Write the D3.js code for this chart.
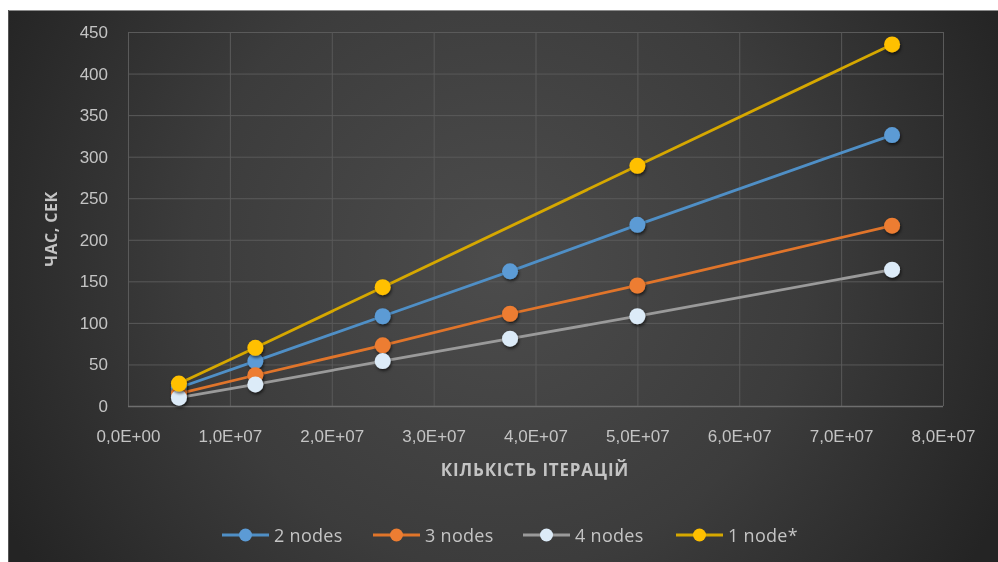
<!DOCTYPE html>
<html><head><meta charset="utf-8">
<script src="https://cdn.jsdelivr.net/npm/d3@7"></script>
<style>
html,body{margin:0;padding:0;background:#fff;}
svg{display:block;font-family:"Open Sans","DejaVu Sans",sans-serif;}
</style></head>
<body>
<svg id="c" width="998" height="562"></svg>
<script>
const iterations = [5e6, 1.25e7, 2.5e7, 3.75e7, 5e7, 7.5e7];
const seriesNames = ["2 nodes", "3 nodes", "4 nodes", "1 node*"];
const nodes2 = [22, 54, 108, 162, 218, 326];
const nodes3 = [15, 37, 73, 111, 145, 217];
const nodes4 = [10, 26, 54, 81, 108, 164];
const node1 = [27, 70, 143, null, 289, 435];
const xTicks = [0, 1e7, 2e7, 3e7, 4e7, 5e7, 6e7, 7e7, 8e7];
const xTickLabels = ["0,0E+00","1,0E+07","2,0E+07","3,0E+07","4,0E+07","5,0E+07","6,0E+07","7,0E+07","8,0E+07"];
const yTicks = [0, 50, 100, 150, 200, 250, 300, 350, 400, 450];
const yTitle = "ЧАС, СЕК";
const xTitle = "КІЛЬКІСТЬ ІТЕРАЦІЙ";

const seriesValues = [nodes2, nodes3, nodes4, node1];
const lineColors = ["#4f8fc6", "#e0742c", "#9a9a9a", "#d6a800"];
const markerColors = ["#5b9bd5", "#ed7d31", "#dcebf8", "#ffc000"];

const svg = d3.select("#c");
const defs = svg.append("defs");
const rg = defs.append("radialGradient").attr("id","bg")
  .attr("gradientUnits","userSpaceOnUse").attr("cx",500).attr("cy",260).attr("r",560);
rg.append("stop").attr("offset","0%").attr("stop-color","#4c4c4c");
rg.append("stop").attr("offset","55%").attr("stop-color","#3c3c3c");
rg.append("stop").attr("offset","100%").attr("stop-color","#242424");
const sh = defs.append("filter").attr("id","sh").attr("x","-50%").attr("y","-50%").attr("width","200%").attr("height","200%");
sh.append("feDropShadow").attr("dx",1).attr("dy",2).attr("stdDeviation",1.5).attr("flood-color","#000").attr("flood-opacity",0.6);
const bl = defs.append("filter").attr("id","bl");
bl.append("feGaussianBlur").attr("stdDeviation",0.6);

svg.append("rect").attr("x",8).attr("y",10).attr("width",990).attr("height",552).attr("fill","url(#bg)");
svg.append("line").attr("x1",8).attr("x2",998).attr("y1",10.5).attr("y2",10.5).attr("stroke","#8a8a8a").attr("stroke-width",1);
svg.append("line").attr("x1",8.5).attr("x2",8.5).attr("y1",10).attr("y2",562).attr("stroke","#555").attr("stroke-width",1);

const x = d3.scaleLinear().domain([0, 8e7]).range([128, 943]);
const y = d3.scaleLinear().domain([0, 450]).range([406, 32]);

const g = svg.append("g").attr("filter","url(#bl)");
const txt = "#c4c4c4";

// gridlines
const yAxis = d3.axisLeft(y).tickValues(yTicks).tickSize(-(943-128)).tickPadding(20).tickFormat(d3.format("d"));
const ya = g.append("g").attr("transform","translate(128,0)").call(yAxis);
ya.select(".domain").attr("stroke","#5e5e5e");
ya.selectAll(".tick line").attr("stroke","#5a5a5a").attr("stroke-width",1);
ya.selectAll(".tick text").attr("fill",txt).attr("font-size",17).attr("x",-20);

const xAxis = d3.axisBottom(x).tickValues(xTicks).tickSize(-(406-32)).tickPadding(24).tickFormat((d,i)=>xTickLabels[i]);
const xa = g.append("g").attr("transform","translate(0,406)").call(xAxis);
xa.select(".domain").remove();
xa.selectAll(".tick line").attr("stroke","#5a5a5a").attr("stroke-width",1);
xa.selectAll(".tick text").attr("fill",txt).attr("font-size",17);
g.append("line").attr("x1",128).attr("x2",943).attr("y1",406.5).attr("y2",406.5).attr("stroke","#6e6e6e").attr("stroke-width",1.5);

// axis titles
g.append("text").attr("transform","translate(57,229) rotate(-90)").attr("text-anchor","middle")
  .attr("fill",txt).attr("font-size",16).attr("font-weight","bold").attr("letter-spacing",0.5).text(yTitle);
g.append("text").attr("x",535).attr("y",476).attr("text-anchor","middle")
  .attr("fill",txt).attr("font-size",17).attr("font-weight","bold").attr("letter-spacing",0.8).text(xTitle);

// series
const line = d3.line().x(d=>x(d[0])).y(d=>y(d[1]));
seriesValues.forEach((vals,i)=>{
  const pts = iterations.map((it,j)=>[it, vals[j]]).filter(p=>p[1]!==null);
  g.append("path").datum(pts).attr("d",line).attr("fill","none")
    .attr("stroke",lineColors[i]).attr("stroke-width",2.8).attr("stroke-linejoin","round");
});
seriesValues.forEach((vals,i)=>{
  const pts = iterations.map((it,j)=>[it, vals[j]]).filter(p=>p[1]!==null);
  g.selectAll(null).data(pts).enter().append("circle")
    .attr("cx",d=>x(d[0])).attr("cy",d=>y(d[1])).attr("r",8)
    .attr("fill",markerColors[i]).attr("filter","url(#sh)");
});

// legend
const legX = [222, 373, 523, 676];
const lg = g.append("g");
seriesNames.forEach((n,i)=>{
  const lx = legX[i], ly = 535;
  lg.append("line").attr("x1",lx).attr("x2",lx+47).attr("y1",ly).attr("y2",ly)
    .attr("stroke",lineColors[i]).attr("stroke-width",2.8);
  lg.append("circle").attr("cx",lx+23.5).attr("cy",ly).attr("r",6.5).attr("fill",markerColors[i]);
  lg.append("text").attr("x",lx+52).attr("y",ly+6.5).attr("fill",txt).attr("font-size",18).attr("letter-spacing",0.3).text(n);
});
</script>
</body></html>
